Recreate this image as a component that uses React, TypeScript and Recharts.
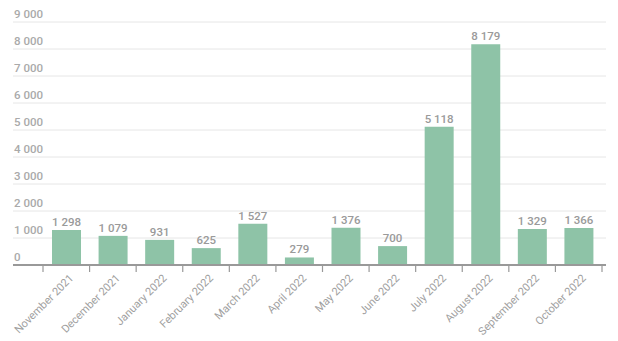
import { BarChart, Bar, XAxis, YAxis, CartesianGrid, LabelList } from "recharts";

const MONTHS = [
  "November 2021",
  "December 2021",
  "January 2022",
  "February 2022",
  "March 2022",
  "April 2022",
  "May 2022",
  "June 2022",
  "July 2022",
  "August 2022",
  "September 2022",
  "October 2022",
];

const COUNTS = [1298, 1079, 931, 625, 1527, 279, 1376, 700, 5118, 8179, 1329, 1366];

const Y_TICKS = [0, 1000, 2000, 3000, 4000, 5000, 6000, 7000, 8000, 9000];

const data = MONTHS.map((m, i) => ({ month: m, count: COUNTS[i] }));

const W = 618;
const H = 341;
const MARGIN = { top: 22, right: 12, left: 12, bottom: 0 };
const PAD = { left: 30, right: 4 };
const X_AXIS_H = 76;
const Y_AXIS_W = 1;
const band =
  (W - MARGIN.left - Y_AXIS_W - MARGIN.right - PAD.left - PAD.right) / MONTHS.length;

const FONT = "Roboto, 'Noto Sans', sans-serif";

const fmt = (v: number) => String(v).replace(/\B(?=(\d{3})+(?!\d))/g, " ");

function YTick(props: any) {
  const { y, payload } = props;
  return (
    <text
      x={MARGIN.left + 2}
      y={y - 4}
      fill="#aaaaaa"
      fontSize={11.5}
      fontWeight={500}
      fontFamily={FONT}
      textAnchor="start"
    >
      {fmt(payload.value)}
    </text>
  );
}

function XTick(props: any) {
  const { x, payload, index } = props;
  const axisY = H - X_AXIS_H;
  const last = index === MONTHS.length - 1;
  return (
    <g>
      <line x1={x - band / 2} x2={x - band / 2} y1={axisY} y2={axisY + 7} stroke="#999" strokeWidth={1.2} />
      {last && (
        <line x1={x + band / 2} x2={x + band / 2} y1={axisY} y2={axisY + 7} stroke="#999" strokeWidth={1.2} />
      )}
      <g transform={`translate(${x + 5},${axisY + 11}) rotate(-45)`}>
        <text x={0} y={0} dy={4} textAnchor="end" fill="#a0a0a0" fontSize={11} fontFamily={FONT}>
          {payload.value}
        </text>
      </g>
    </g>
  );
}

function ValueLabel(props: any) {
  const { x, y, width, value } = props;
  return (
    <text
      x={x + width / 2}
      y={y - 4}
      textAnchor="middle"
      fill="#9a9a9a"
      fontSize={11.5}
      fontWeight={500}
      fontFamily={FONT}
    >
      {fmt(value)}
    </text>
  );
}

export default function App() {
  return (
    <div style={{ position: "absolute", left: 0, top: 0, background: "#fff" }}>
      <BarChart width={W} height={H} data={data} margin={MARGIN}>
        <CartesianGrid vertical={false} stroke="#e6e6e6" strokeWidth={1} />
        <XAxis
          dataKey="month"
          interval={0}
          padding={PAD}
          height={X_AXIS_H}
          tickLine={false}
          axisLine={{ stroke: "#999", strokeWidth: 2 }}
          tick={<XTick />}
        />
        <YAxis
          width={Y_AXIS_W}
          domain={[0, 9000]}
          ticks={Y_TICKS}
          interval={0}
          axisLine={false}
          tickLine={false}
          tick={<YTick />}
        />
        <Bar dataKey="count" fill="#8ec3a7" barSize={29} isAnimationActive={false}>
          <LabelList dataKey="count" content={<ValueLabel />} />
        </Bar>
      </BarChart>
    </div>
  );
}
